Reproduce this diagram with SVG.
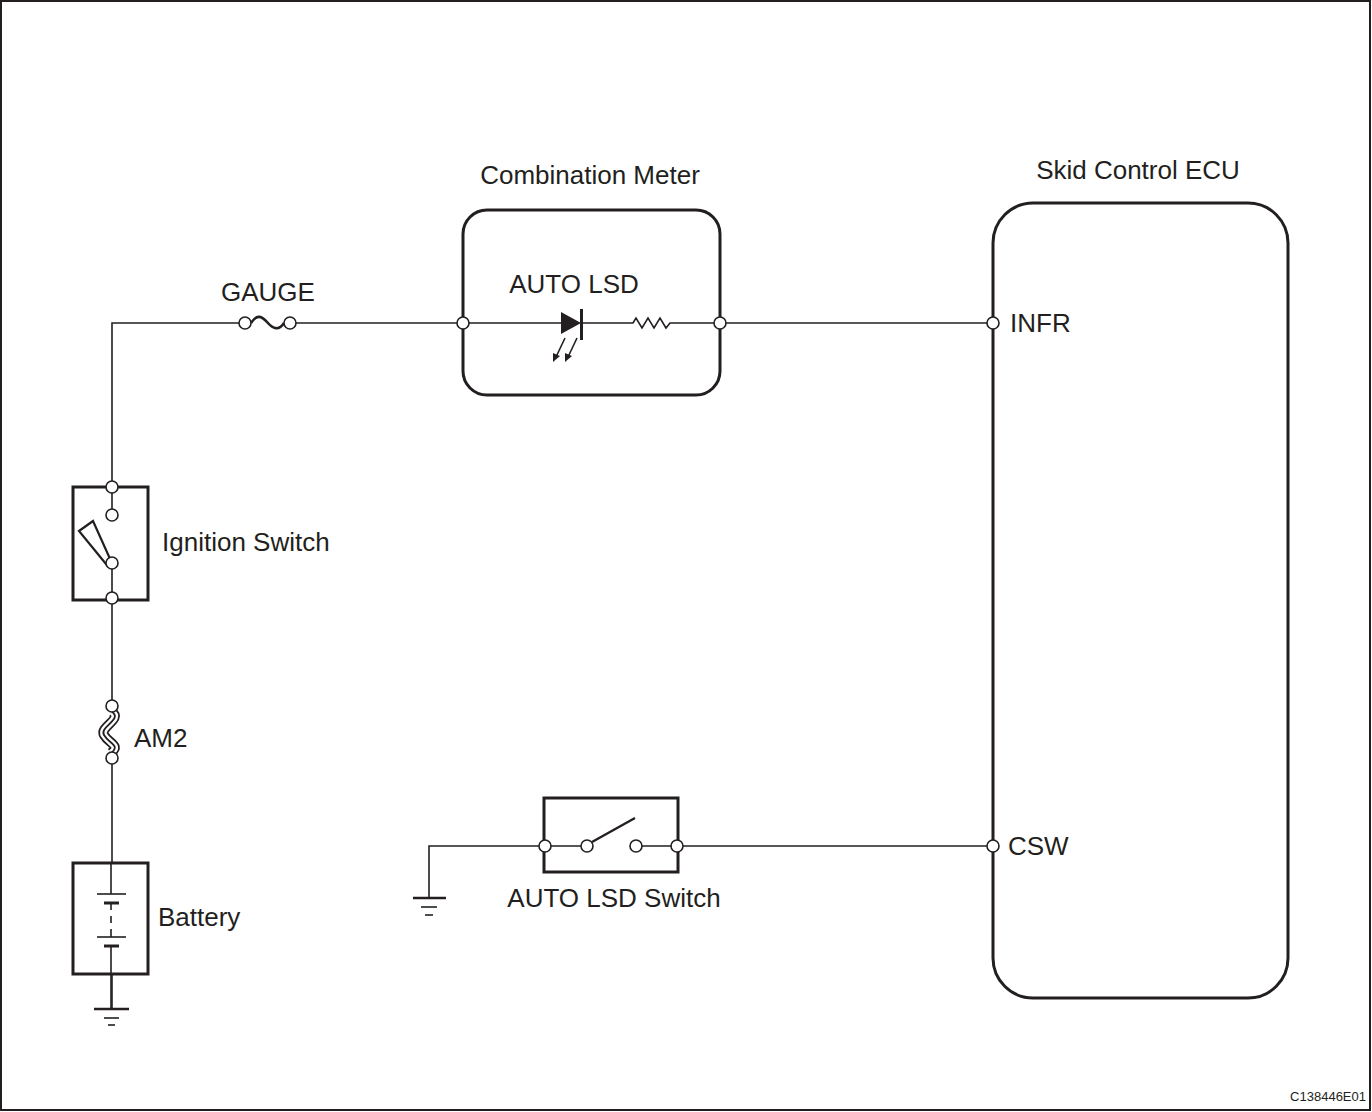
<svg xmlns="http://www.w3.org/2000/svg" width="1372" height="1112" viewBox="0 0 1372 1112">
<style>
.w{fill:none;stroke:#231f20;stroke-width:1.6}
.box{fill:none;stroke:#231f20;stroke-width:3}
.t{fill:none;stroke:#231f20;stroke-width:2.6}
.pin{fill:#fff;stroke:#231f20;stroke-width:1.6}
.lbl{font-family:"Liberation Sans",Arial,sans-serif;font-size:26px;fill:#231f20}
.sm{font-family:"Liberation Sans",Arial,sans-serif;font-size:13px;fill:#231f20}
</style>
<rect x="0" y="0" width="1372" height="1112" fill="#fff"/>
<rect x="1" y="1" width="1369" height="1109" fill="none" stroke="#231f20" stroke-width="2"/>
<g id="connectors">
<path class="w" d="M112,487 V323 H239"/>
<path class="w" d="M296,323 H463"/>
<path class="w" d="M720,323 H993"/>
<path class="w" d="M112,598 V700"/>
<path class="w" d="M112,764 V1009"/>
<path class="w" d="M677,846 H993"/>
<path class="w" d="M545,846 H429 V898"/>
</g>
<g id="gauge-fuse">
<path class="t" d="M251,323 C256,315 261,315 267,322 S279,331 284,323"/>
<circle class="pin" cx="245" cy="323" r="6"/>
<circle class="pin" cx="290" cy="323" r="6"/>
<text class="lbl" x="268" y="301" text-anchor="middle">GAUGE</text>
</g>
<g id="combination-meter">
<rect class="box" x="463" y="210" width="257" height="185" rx="24"/>
<path class="w" d="M463,323 H561 M581,323 H633 L636,318 L642,328 L648,318 L654,328 L660,318 L666,328 L670,323 H720"/>
<polygon points="561,312 581,323 561,334" fill="#231f20"/>
<line x1="581.5" y1="309" x2="581.5" y2="340" stroke="#231f20" stroke-width="3"/>
<line x1="565" y1="338" x2="556" y2="357" stroke="#231f20" stroke-width="1.6"/>
<polygon points="553,362 553,353 560,356" fill="#231f20"/>
<line x1="577" y1="338" x2="568" y2="357" stroke="#231f20" stroke-width="1.6"/>
<polygon points="565,362 565,353 572,356" fill="#231f20"/>
<circle class="pin" cx="463" cy="323" r="6"/>
<circle class="pin" cx="720" cy="323" r="6"/>
<text class="lbl" x="574" y="293" text-anchor="middle">AUTO LSD</text>
<text class="lbl" x="590" y="184" text-anchor="middle">Combination Meter</text>
</g>
<g id="skid-control-ecu">
<rect class="box" x="993" y="203" width="295" height="795" rx="40"/>
<circle class="pin" cx="993" cy="323" r="6"/>
<circle class="pin" cx="993" cy="846" r="6"/>
<text class="lbl" x="1138" y="179" text-anchor="middle">Skid Control ECU</text>
<text class="lbl" x="1010" y="332">INFR</text>
<text class="lbl" x="1008" y="855">CSW</text>
</g>
<g id="ignition-switch">
<rect class="box" x="73" y="487" width="75" height="113"/>
<path class="w" d="M112,487 V515 M112,563 V598"/>
<polygon points="79,531 93,521 111,561 106,564" fill="#fff" stroke="#231f20" stroke-width="2.2"/>
<circle class="pin" cx="112" cy="487" r="6"/>
<circle class="pin" cx="112" cy="515" r="6"/>
<circle class="pin" cx="112" cy="563" r="6"/>
<circle class="pin" cx="112" cy="598" r="6"/>
<text class="lbl" x="162" y="551">Ignition Switch</text>
</g>
<g id="am2-fuse">
<path d="M112,712 C123,719 99,727 104,735 C109,744 121,745 111,753" fill="none" stroke="#231f20" stroke-width="10"/>
<path d="M112,712 C123,719 99,727 104,735 C109,744 121,745 111,753" fill="none" stroke="#fff" stroke-width="6.5"/>
<path d="M112,712 C123,719 99,727 104,735 C109,744 121,745 111,753" fill="none" stroke="#231f20" stroke-width="1.8"/>
<circle class="pin" cx="112" cy="706" r="6"/>
<circle class="pin" cx="112" cy="758" r="6"/>
<text class="lbl" x="134" y="747">AM2</text>
</g>
<g id="battery">
<rect x="73" y="863" width="75" height="111" fill="#fff" stroke="#231f20" stroke-width="3"/>
<path class="w" d="M111,863 V894 M111,903 V910 M111,916 V923 M111,929 V937 M111,946 V974"/>
<line x1="97" y1="894" x2="126" y2="894" stroke="#231f20" stroke-width="1.6"/>
<line x1="104" y1="903" x2="119" y2="903" stroke="#231f20" stroke-width="3"/>
<line x1="97" y1="937" x2="126" y2="937" stroke="#231f20" stroke-width="1.6"/>
<line x1="104" y1="946" x2="119" y2="946" stroke="#231f20" stroke-width="3"/>
<path class="w" d="M111,974 V1009"/>
<line x1="94" y1="1009" x2="129" y2="1009" stroke="#231f20" stroke-width="2.4"/>
<line x1="104" y1="1018" x2="119" y2="1018" stroke="#231f20" stroke-width="1.6"/>
<line x1="108" y1="1025" x2="115" y2="1025" stroke="#231f20" stroke-width="1.6"/>
<text class="lbl" x="158" y="926">Battery</text>
</g>
<g id="auto-lsd-switch">
<rect class="box" x="544" y="798" width="134" height="74"/>
<path class="w" d="M545,846 H587 M636,846 H677"/>
<line x1="592" y1="842" x2="635" y2="818" stroke="#231f20" stroke-width="2.4"/>
<circle class="pin" cx="545" cy="846" r="6"/>
<circle class="pin" cx="587" cy="846" r="6"/>
<circle class="pin" cx="636" cy="846" r="6"/>
<circle class="pin" cx="677" cy="846" r="6"/>
<text class="lbl" x="614" y="907" text-anchor="middle">AUTO LSD Switch</text>
</g>
<g id="ground-switch">
<line x1="413" y1="898" x2="446" y2="898" stroke="#231f20" stroke-width="2.4"/>
<line x1="421" y1="907" x2="437" y2="907" stroke="#231f20" stroke-width="1.6"/>
<line x1="425" y1="915" x2="433" y2="915" stroke="#231f20" stroke-width="1.6"/>
</g>
<text class="sm" x="1366" y="1101" text-anchor="end">C138446E01</text>
</svg>
